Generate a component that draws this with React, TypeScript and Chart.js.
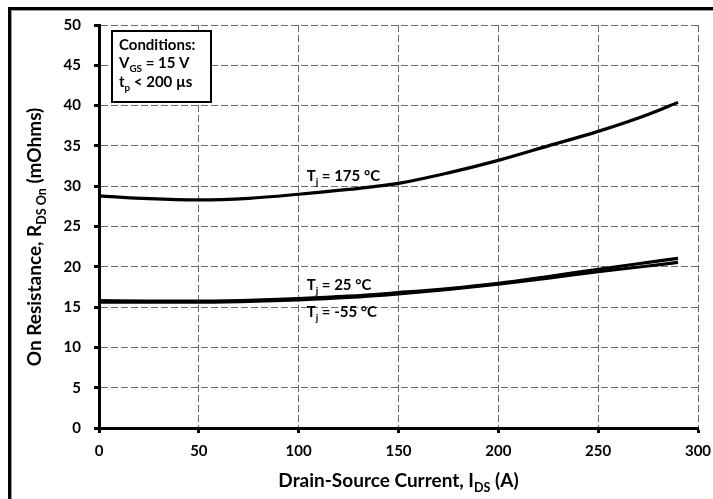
import { useEffect, useRef } from "react";
import { Chart, registerables } from "chart.js";

Chart.register(...registerables);

// ---- data ----
const currents = [0, 25, 50, 75, 100, 125, 150, 175, 200, 225, 250, 275, 290];
const rds175 = [28.8, 28.45, 28.3, 28.5, 29.0, 29.6, 30.35, 31.65, 33.2, 35.0, 36.8, 38.9, 40.4];
const rds25 = [15.8, 15.75, 15.75, 15.85, 16.05, 16.35, 16.8, 17.3, 17.95, 18.8, 19.7, 20.55, 21.05];
const rdsMinus55 = [15.6, 15.6, 15.6, 15.7, 15.9, 16.2, 16.65, 17.2, 17.85, 18.6, 19.4, 20.1, 20.55];

const xTickValues = [0, 50, 100, 150, 200, 250, 300];
const yTickValues = [0, 5, 10, 15, 20, 25, 30, 35, 40, 45, 50];

type Part = { t: string; sub?: boolean };

const curveLabels: { parts: Part[]; x: number; y: number }[] = [
  { parts: [{ t: "T" }, { t: "j", sub: true }, { t: " = 175 °C" }], x: 104, y: 30.6 },
  { parts: [{ t: "T" }, { t: "j", sub: true }, { t: " = 25 °C" }], x: 104, y: 17.1 },
  { parts: [{ t: "T" }, { t: "j", sub: true }, { t: " = -55 °C" }], x: 104, y: 13.75 },
];

const conditionLines: Part[][] = [
  [{ t: "Conditions:" }],
  [{ t: "V" }, { t: "GS", sub: true }, { t: " = 15 V" }],
  [{ t: "t" }, { t: "p", sub: true }, { t: " < 200 µs" }],
];

const xTitle: Part[] = [{ t: "Drain-Source Current, I" }, { t: "DS", sub: true }, { t: " (A)" }];
const yTitle: Part[] = [{ t: "On Resistance, R" }, { t: "DS On", sub: true }, { t: " (mOhms)" }];

const FAMILY = "Lato, 'Open Sans', sans-serif";

function font(size: number) {
  return `bold ${size}px ${FAMILY}`;
}

function richWidth(ctx: CanvasRenderingContext2D, parts: Part[], size: number) {
  let w = 0;
  for (const p of parts) {
    ctx.font = font(p.sub ? size * 0.66 : size);
    w += ctx.measureText(p.t).width;
  }
  return w;
}

function drawRich(
  ctx: CanvasRenderingContext2D,
  parts: Part[],
  x: number,
  y: number,
  size: number,
  align: "left" | "center" = "left"
) {
  let cx = align === "center" ? x - richWidth(ctx, parts, size) / 2 : x;
  ctx.textBaseline = "alphabetic";
  ctx.textAlign = "left";
  ctx.fillStyle = "#000";
  for (const p of parts) {
    const s = p.sub ? size * 0.66 : size;
    ctx.font = font(s);
    ctx.fillText(p.t, cx, p.sub ? y + size * 0.26 : y);
    cx += ctx.measureText(p.t).width;
  }
}

const decorPlugin = {
  id: "decor",
  beforeDraw(chart: any) {
    const ctx: CanvasRenderingContext2D = chart.ctx;
    ctx.save();
    ctx.fillStyle = "#fff";
    ctx.fillRect(0, 0, chart.width, chart.height);
    ctx.strokeStyle = "#000";
    ctx.lineWidth = 3;
    ctx.strokeRect(9.5, 8.5, chart.width + 50, chart.height + 50);
    ctx.strokeStyle = "#999";
    ctx.lineWidth = 1;
    ctx.strokeRect(11.5, 10.5, chart.width + 50, chart.height + 50);
    ctx.restore();
  },
  afterDraw(chart: any) {
    const ctx: CanvasRenderingContext2D = chart.ctx;
    const area = chart.chartArea;
    const xs = chart.scales.x;
    const ys = chart.scales.y;
    ctx.save();

    // conditions box
    const bx = area.left + 13;
    const by = area.top + 6;
    ctx.fillStyle = "#fff";
    ctx.fillRect(bx, by, 99, 71);
    ctx.strokeStyle = "#000";
    ctx.lineWidth = 2;
    ctx.strokeRect(bx, by, 99, 71);
    const lineYs = [50, 68, 87];
    conditionLines.forEach((parts, i) => drawRich(ctx, parts, bx + 7, lineYs[i], 15));

    // curve labels
    for (const l of curveLabels) {
      drawRich(ctx, l.parts, xs.getPixelForValue(l.x), ys.getPixelForValue(l.y), 15);
    }

    // axis titles
    drawRich(ctx, xTitle, (area.left + area.right) / 2, 487, 19, "center");
    ctx.translate(41, 237);
    ctx.rotate(-Math.PI / 2);
    drawRich(ctx, yTitle, 0, 0, 19, "center");
    ctx.restore();
  },
};

export default function App() {
  const ref = useRef<HTMLCanvasElement | null>(null);

  useEffect(() => {
    if (!ref.current) return;
    const mk = (ys: number[]) => currents.map((c, i) => ({ x: c, y: ys[i] }));
    const ds = (label: string, ys: number[]) => ({
      label,
      data: mk(ys),
      borderColor: "#000",
      borderWidth: 3.2,
      pointRadius: 0,
      fill: false,
      cubicInterpolationMode: "monotone" as const,
    });
    const tickFont = { family: FAMILY, weight: "bold" as const, size: 15 };
    const chart = new Chart(ref.current, {
      type: "line",
      data: {
        datasets: [ds("175", rds175), ds("25", rds25), ds("-55", rdsMinus55)],
      },
      options: {
        animation: false,
        responsive: true,
        maintainAspectRatio: false,
        layout: { padding: { top: 25, right: 15, left: 0, bottom: 0 } },
        plugins: { legend: { display: false }, tooltip: { enabled: false } },
        scales: {
          x: {
            type: "linear",
            min: 0,
            max: 300,
            afterBuildTicks: (s: any) => {
              s.ticks = xTickValues.map((v) => ({ value: v }));
            },
            afterFit: (s: any) => {
              s.height = 71;
              s.paddingLeft = 0;
              s.paddingRight = 0;
            },
            ticks: { font: tickFont, color: "#000", padding: 9 },
            grid: {
              color: "#6a6a6a",
              lineWidth: 1,
              tickColor: "#000",
              tickWidth: 3,
              tickLength: 5,
              tickBorderDash: [],
            },
            border: { display: true, color: "#000", width: 3, dash: [7, 3] },
          },
          y: {
            type: "linear",
            min: 0,
            max: 50,
            afterBuildTicks: (s: any) => {
              s.ticks = yTickValues.map((v) => ({ value: v }));
            },
            afterFit: (s: any) => {
              s.width = 99;
              s.paddingTop = 0;
              s.paddingBottom = 0;
            },
            ticks: { font: tickFont, color: "#000", padding: 13 },
            grid: {
              color: "#6a6a6a",
              lineWidth: 1,
              tickColor: "#000",
              tickWidth: 3,
              tickLength: 5,
              tickBorderDash: [],
            },
            border: { display: true, color: "#000", width: 3, dash: [7, 3] },
          },
        },
      },
      plugins: [decorPlugin],
    });
    return () => chart.destroy();
  }, []);

  return (
    <div style={{ position: "absolute", left: 0, top: 0, width: 713, height: 499 }}>
      <canvas ref={ref} />
    </div>
  );
}
